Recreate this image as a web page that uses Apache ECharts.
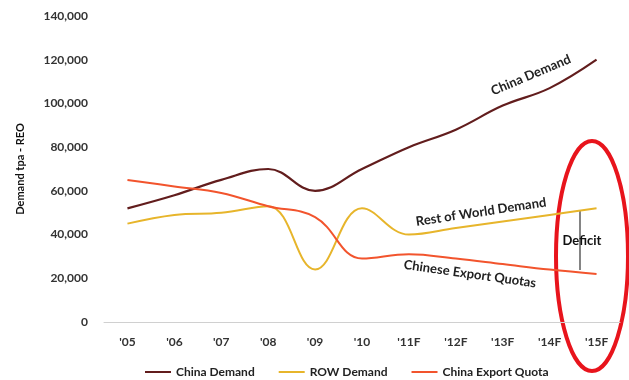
<!DOCTYPE html>
<html>
<head>
<meta charset="utf-8">
<script src="https://cdn.jsdelivr.net/npm/echarts@6/dist/echarts.min.js"></script>
<style>
  html, body { margin: 0; padding: 0; background: #fff; }
  #main { width: 629px; height: 380px; }
</style>
</head>
<body>
<div id="main"></div>
<script>
// 年份
var years = ["'05", "'06", "'07", "'08", "'09", "'10", "'11F", "'12F", "'13F", "'14F", "'15F"];
// 中国需求
var chinaDemand = [52000, 58000, 65000, 70000, 60000, 70000, 80000, 88000, 99000, 107000, 120000];
// 世界其他地区需求
var rowDemand = [45000, 49000, 50000, 53000, 24000, 52000, 40000, 43000, 46000, 49000, 52000];
// 中国出口配额
var exportQuota = [65000, 62000, 59000, 53000, 48000, 29000, 31000, 29000, 26500, 24000, 22000];

var font = 'Lato';

var myChart = echarts.init(document.getElementById('main'));
var option = {
  backgroundColor: '#fff',
  animation: false,
  color: ['#621d1d', '#e7b52b', '#f2542d'],
  grid: {
    left: 104,
    right: 9,
    top: 16,
    bottom: 58
  },
  legend: {
    top: 361,
    left: 140,
    itemWidth: 26,
    itemHeight: 2,
    itemGap: 24,
    icon: 'rect',
    textStyle: { fontFamily: font, fontSize: 12, color: '#222', fontWeight: 'bold' },
    data: ['China Demand', 'ROW Demand', 'China Export Quota']
  },
  xAxis: {
    type: 'category',
    data: years,
    axisLine: { lineStyle: { color: '#d0d0d0' } },
    axisTick: { show: false },
    axisLabel: { margin: 14, fontFamily: font, fontSize: 12, fontWeight: 'bold', color: '#333' }
  },
  yAxis: {
    type: 'value',
    min: 0,
    max: 140000,
    interval: 20000,
    name: 'Demand tpa - REO',
    nameLocation: 'middle',
    nameGap: 78,
    nameTextStyle: { fontFamily: font, fontSize: 11, fontWeight: 'bold', color: '#111' },
    splitLine: { show: false },
    axisLine: { show: false },
    axisTick: { show: false },
    axisLabel: {
      margin: 16,
      fontFamily: font, fontSize: 12, fontWeight: 'bold', color: '#333',
      formatter: function (v) { return v.toLocaleString('en-US'); }
    }
  },
  series: [{
    name: 'China Demand',
    type: 'line',
    smooth: 0.4,
    symbol: 'none',
    lineStyle: { width: 2.2 },
    data: chinaDemand
  }, {
    name: 'ROW Demand',
    type: 'line',
    smooth: 0.4,
    symbol: 'none',
    lineStyle: { width: 2 },
    data: rowDemand
  }, {
    name: 'China Export Quota',
    type: 'line',
    smooth: 0.4,
    symbol: 'none',
    lineStyle: { width: 2 },
    data: exportQuota
  }],
  graphic: [{
    type: 'text', x: 531, y: 75, rotation: 0.4,
    style: { text: 'China Demand', font: 'bold 13px ' + font, fill: '#222', align: 'center', verticalAlign: 'middle' }
  }, {
    type: 'text', x: 481, y: 212, rotation: 0.15,
    style: { text: 'Rest of World Demand', font: 'bold 13px ' + font, fill: '#222', align: 'center', verticalAlign: 'middle' }
  }, {
    type: 'text', x: 470, y: 274, rotation: -0.14,
    style: { text: 'Chinese Export Quotas', font: 'bold 13px ' + font, fill: '#222', align: 'center', verticalAlign: 'middle' }
  }, {
    type: 'line',
    shape: { x1: 580, y1: 211, x2: 580, y2: 270 },
    style: { stroke: '#333', lineWidth: 1.2 }
  }, {
    type: 'text', x: 582, y: 241,
    style: { text: 'Deficit', font: 'bold 13px ' + font, fill: '#111', align: 'center', verticalAlign: 'middle' }
  }, {
    type: 'ellipse',
    shape: { cx: 592, cy: 256, rx: 36, ry: 115 },
    style: { fill: 'none', stroke: '#e8141c', lineWidth: 4 }
  }]
};
myChart.setOption(option);
</script>
</body>
</html>
